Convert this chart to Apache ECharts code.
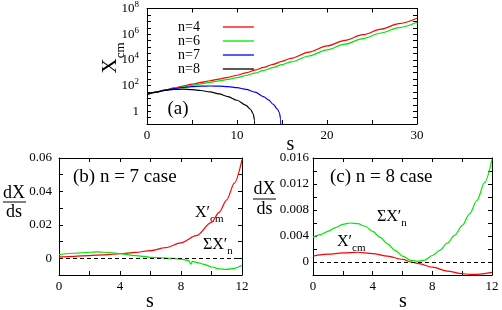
<!DOCTYPE html>
<html><head><meta charset="utf-8">
<script src="https://cdn.jsdelivr.net/npm/echarts@6/dist/echarts.min.js"></script>
<style>html,body{margin:0;padding:0;background:#fff}#c{width:502px;height:310px}</style>
</head><body><div id="c"></div>
<script>
// ---- data (a): X_cm vs s, log scale ----
const seriesNames = ['n=4', 'n=6', 'n=7', 'n=8'];
const sGrowth = [0,1,2,3,4,5,6,7,8,9,10,11,12,13,14,15,16,18,20,22,24,26,28,30];
const xcmN4 = [20,30.2,44.7,64.6,91.2,126,174,234,316,437,631,977,1585,2630,4467,7586,13183,39811,120226,331131,912011,2450000,6600000,17400000];
const xcmN6 = [20,29.5,41.7,57.5,77.6,102,135,178,229,302,407,603,933,1514,2512,4169,6918,19953,60256,165959,457088,1230000,3240000,8510000];
const sN7 = [0,1,2,3,4,5,6,7,8,9,10,11,12,13,13.5,14,14.5,14.7,14.85,14.9];
const xcmN7 = [20,30.9,43.7,57.5,70.8,81.3,89.1,91.2,89.1,81.3,67.6,50.1,30.2,13.2,7.59,3.55,1.41,0.79,0.25,0.001];
const sN8 = [0,1,2,3,4,5,6,7,8,9,10,11,11.5,11.8,11.95,12];
const xcmN8 = [20,30.9,41.7,49,51.3,47.9,40.7,31.6,21.9,13.5,7.08,2.82,1.41,0.63,0.2,0.001];
// ---- data (b): n = 7 case ----
const sB = [0,1,2,3,4,5,6,7,8,9,10,10.5,11,11.5,12];
const xcmPrimeB = [0.0008,0.0012,0.0016,0.0021,0.0027,0.0035,0.0046,0.0064,0.0092,0.0135,0.0215,0.0275,0.035,0.045,0.059];
const sSumB = [0,1,2,2.5,3,4,5,6,7,7.5,8,8.5,8.65,8.75,9,9.5,10,10.5,11,11.5,12];
const sumPrimeB = [0.0022,0.003,0.0036,0.0038,0.0036,0.0028,0.0016,0.0006,0.0001,-0.0001,-0.0005,-0.0014,-0.0035,-0.0019,-0.0024,-0.0036,-0.0052,-0.0063,-0.0066,-0.006,-0.0042];
// ---- data (c): n = 8 case ----
const sC = [0,1,2,3,4,5,6,6.6,7,8,9,10,10.5,11,12];
const xcmPrimeC = [0.0009,0.0012,0.0014,0.0015,0.0013,0.0009,0.0004,0,-0.0002,-0.0008,-0.0014,-0.0018,-0.0019,-0.0019,-0.0016];
const sSumC = [0,0.5,1,1.5,2,2.5,3,3.5,4,4.5,5,5.5,6,6.5,7,7.5,8,8.5,9,9.5,10,10.5,11,11.5,12];
const sumPrimeC = [0.0038,0.0042,0.0047,0.0053,0.0058,0.006,0.0059,0.0055,0.0047,0.0038,0.0028,0.0018,0.0009,0.0003,0.0001,0.0003,0.001,0.0018,0.0029,0.0041,0.0056,0.0074,0.0095,0.0122,0.0158];

const FONT = 'Liberation Serif';
const RED = '#ff0000', GREEN = '#00e600', BLUE = '#0000ff', BLACK = '#000000';
const pair = (xs, ys) => xs.map((x, i) => [x, ys[i]]);
const lineSt = {color: '#000', width: 1};

function xAx(grid, max, interval, labelEvery, top) {
  return {
    type: 'value', gridIndex: grid, min: 0, max: max, interval: interval,
    position: top ? 'top' : 'bottom',
    axisLine: {show: true, onZero: false, lineStyle: lineSt},
    axisTick: {show: true, inside: true, length: 4, lineStyle: lineSt},
    axisLabel: {show: !top, margin: 5, fontFamily: FONT, fontSize: 13, color: '#000',
      formatter: v => (Math.abs(v % labelEvery) < 1e-9 ? String(v) : '')},
    splitLine: {show: false}
  };
}
function yAx(grid, min, max, interval, right, fmt, margin) {
  return {
    type: 'value', gridIndex: grid, min: min, max: max, interval: interval,
    position: right ? 'right' : 'left',
    axisLine: {show: true, onZero: false, lineStyle: lineSt},
    axisTick: {show: true, inside: true, length: 4, lineStyle: lineSt},
    axisLabel: {show: !right, margin: margin, fontFamily: FONT, fontSize: 13, color: '#000', formatter: fmt},
    splitLine: {show: false}
  };
}
const fmtB = v => { const k = Math.round(v * 100); if (k < 0 || k % 2) return ''; return k === 0 ? '0' : v.toFixed(2); };
const fmtC = v => { const k = Math.round(v * 1000); if (k < 0 || k % 4) return ''; return k === 0 ? '0' : v.toFixed(3); };

const chart = echarts.init(document.getElementById('c'), null, {renderer: 'canvas'});

const txt = (x, y, text, size, align, extra) => Object.assign({
  type: 'text', x: x, y: y, silent: true,
  style: {text: text, fontFamily: FONT, fontSize: size, fill: '#000', align: align || 'center', verticalAlign: 'middle'}
}, extra || {});
const primeRich = (main, sub) => ({
  type: 'text', silent: true,
  style: {
    text: '{m|' + main + '}{s|' + sub + '}', fill: '#000', align: 'left', verticalAlign: 'middle',
    rich: {
      m: {fontFamily: FONT, fontSize: 16, lineHeight: 18, fill: '#000'},
      s: {fontFamily: FONT, fontSize: 11, lineHeight: 11, padding: [12, 0, 0, 0], fill: '#000'}
    }
  }
});

const graphics = [
  txt(178, 109, '(a)', 19),
  txt(73, 177.5, '(b) n = 7 case', 19, 'left'),
  txt(330, 177.5, '(c) n = 8 case', 19, 'left'),
  Object.assign(primeRich('X′', 'cm'), {x: 195, y: 213}),
  Object.assign(primeRich('ΣX′', 'n'), {x: 203, y: 245}),
  Object.assign(primeRich('ΣX′', 'n'), {x: 377, y: 217}),
  Object.assign(primeRich('X′', 'cm'), {x: 337, y: 242}),
  txt(290.5, 145, 's', 20),
  txt(150, 302, 's', 20),
  txt(403, 301.5, 's', 20),
  txt(14, 193, 'dX', 18),
  {type: 'line', silent: true, shape: {x1: 3, y1: 202, x2: 26, y2: 202}, style: {stroke: '#000', lineWidth: 1}},
  txt(14, 212, 'ds', 18),
  txt(264.5, 189, 'dX', 18),
  {type: 'line', silent: true, shape: {x1: 253, y1: 199, x2: 276, y2: 199}, style: {stroke: '#000', lineWidth: 1}},
  txt(264.5, 209, 'ds', 18),
  {
    type: 'text', x: 110, y: 58, rotation: Math.PI / 2, silent: true,
    style: {
      text: '{m|X}{s|cm}', fill: '#000', align: 'center', verticalAlign: 'middle',
      rich: {
        m: {fontFamily: FONT, fontSize: 21, lineHeight: 22, fill: '#000'},
        s: {fontFamily: FONT, fontSize: 13, lineHeight: 13, padding: [21, 0, 0, 0], fill: '#000'}
      }
    }
  }
];

const ln = (name, data, color, xi, yi, extra) => Object.assign({
  type: 'line', name: name, data: data, xAxisIndex: xi, yAxisIndex: yi,
  symbol: 'none', smooth: 0.3, smoothMonotone: 'x', clip: true,
  lineStyle: {color: color, width: 1.2}, itemStyle: {color: color}
}, extra || {});
const zeroLine = {
  silent: true, symbol: ['none', 'none'], label: {show: false},
  lineStyle: {color: '#000', type: [4, 3], width: 1}, data: [{yAxis: 0}]
};

chart.setOption({
  animation: false,
  backgroundColor: '#fff',
  grid: [
    {left: 147, top: 8, width: 270, height: 116},
    {left: 59, top: 158, width: 183, height: 117},
    {left: 313, top: 158, width: 179, height: 117}
  ],
  legend: {
    orient: 'vertical', left: 173, top: 15, align: 'right',
    icon: 'path://M0,0L31,0L31,1.3L0,1.3Z', symbolKeepAspect: true,
    itemWidth: 31, itemHeight: 13.5, itemGap: 0,
    textStyle: {fontFamily: FONT, fontSize: 14, color: '#000', lineHeight: 13.5, padding: [0, 18, 0, 0]},
    data: seriesNames, selectedMode: false
  },
  xAxis: [
    xAx(0, 30, 5, 10, false), xAx(0, 30, 5, 10, true),
    xAx(1, 12, 2, 4, false), xAx(1, 12, 2, 4, true),
    xAx(2, 12, 2, 4, false), xAx(2, 12, 2, 4, true)
  ],
  yAxis: [
    {
      type: 'log', logBase: 10, gridIndex: 0, min: 0.1, max: 1e8, splitNumber: 9, position: 'left',
      axisLine: {show: true, onZero: false, lineStyle: lineSt},
      axisTick: {show: false},
      axisLabel: {
        margin: 8, color: '#000', fontFamily: FONT, fontSize: 13,
        formatter: v => { const e = Math.round(Math.log10(v)); if (e < 0 || e % 2) return ''; if (e === 0) return '{b|1}'; return '{b|10}{p|' + e + '}'; },
        rich: {
          b: {fontFamily: FONT, fontSize: 13, color: '#000', lineHeight: 14},
          p: {fontFamily: FONT, fontSize: 9, color: '#000', padding: [0, 0, 8, 0]}
        }
      },
      splitLine: {show: false}
    },
    {type: 'value', gridIndex: 0, min: -1, max: 8, interval: 0.5, position: 'left',
      axisLine: {show: false}, axisTick: {show: true, inside: true, length: 4, lineStyle: lineSt},
      axisLabel: {show: false}, splitLine: {show: false}},
    {type: 'value', gridIndex: 0, min: -1, max: 8, interval: 0.5, position: 'right',
      axisLine: {show: true, onZero: false, lineStyle: lineSt}, axisTick: {show: true, inside: true, length: 4, lineStyle: lineSt},
      axisLabel: {show: false}, splitLine: {show: false}},
    yAx(1, -0.01, 0.06, 0.01, false, fmtB, 7),
    yAx(1, -0.01, 0.06, 0.01, true, fmtB, 7),
    yAx(2, -0.002, 0.016, 0.002, false, fmtC, 4),
    yAx(2, -0.002, 0.016, 0.002, true, fmtC, 4)
  ],
  series: [
    ln('n=4', pair(sGrowth, xcmN4), RED, 0, 0),
    ln('n=6', pair(sGrowth, xcmN6), GREEN, 0, 0),
    ln('n=7', pair(sN7, xcmN7), BLUE, 0, 0),
    ln('n=8', pair(sN8, xcmN8), BLACK, 0, 0),
    ln('xcmB', pair(sB, xcmPrimeB), RED, 2, 3, {markLine: zeroLine}),
    ln('sumB', pair(sSumB, sumPrimeB), GREEN, 2, 3),
    ln('xcmC', pair(sC, xcmPrimeC), RED, 4, 5, {markLine: zeroLine}),
    ln('sumC', pair(sSumC, sumPrimeC), GREEN, 4, 5)
  ],
  graphic: graphics
});
</script></body></html>
